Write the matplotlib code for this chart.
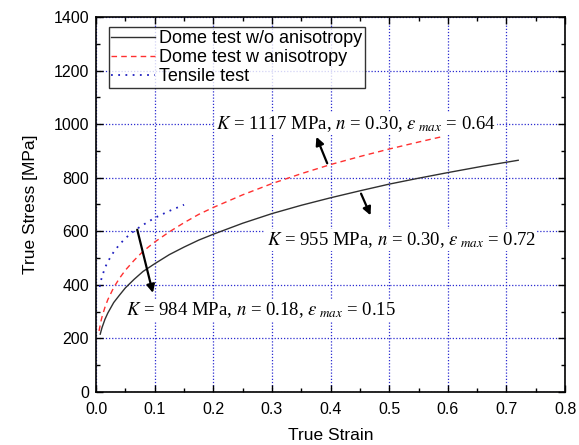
import matplotlib
matplotlib.use("Agg")
import matplotlib.pyplot as plt
from matplotlib.ticker import MultipleLocator

plt.rcParams['font.family'] = ['Liberation Sans', 'DejaVu Sans']
plt.rcParams['mathtext.fontset'] = 'stix'

# valores
strain_sin = [0.007, 0.01, 0.015, 0.02, 0.03, 0.04, 0.05, 0.065, 0.08, 0.1, 0.125, 0.15, 0.175,
              0.2, 0.25, 0.3, 0.35, 0.4, 0.45, 0.5, 0.55, 0.6, 0.66, 0.72]
stress_sin = [216, 240, 271, 295, 334, 362, 389, 421, 450, 479, 513, 541, 567,
              589, 630, 666, 697, 725, 751, 776, 798, 819, 843, 865]

strain_con = [0.005, 0.008, 0.01, 0.015, 0.02, 0.03, 0.04, 0.05, 0.065, 0.08, 0.1, 0.125, 0.15,
              0.175, 0.2, 0.25, 0.3, 0.35, 0.4, 0.45, 0.5, 0.55, 0.59]
stress_con = [228, 262, 280, 316, 345, 390, 425, 455, 492, 525, 560, 598, 632,
              663, 689, 736, 778, 815, 849, 879, 907, 933, 953]

strain_tens = [0.006, 0.008, 0.01, 0.015, 0.02, 0.03, 0.04, 0.05, 0.06, 0.075, 0.09, 0.1, 0.125, 0.15]
stress_tens = [392, 414, 430, 463, 487, 523, 551, 574, 593, 617, 637, 650, 676, 699]

etiquetas = ["Dome test w/o anisotropy", "Dome test w anisotropy", "Tensile test"]

textos = [
    r"$K$ = 1117 MPa, $n$ = 0.30, $\varepsilon_{\ max}$ = 0.64",
    r"$K$ = 955 MPa, $n$ = 0.30, $\varepsilon_{\ max}$ = 0.72",
    r"$K$ = 984 MPa, $n$ = 0.18, $\varepsilon_{\ max}$ = 0.15",
]

fig = plt.figure(figsize=(5.79, 4.45), dpi=100)
ax = fig.add_axes([0.166, 0.119, 0.810, 0.843])

ax.plot(strain_sin, stress_sin, color='#303030', lw=1.0, label=etiquetas[0])
ax.plot(strain_con, stress_con, color='#ff3030', lw=1.0, ls=(0, (4, 3)), label=etiquetas[1])
ax.plot(strain_tens, stress_tens, color='#2020c0', lw=1.3, ls=(0, (1, 3)), label=etiquetas[2])

ax.set_xlim(0, 0.8)
ax.set_ylim(0, 1400)
ax.xaxis.set_major_locator(MultipleLocator(0.1))
ax.xaxis.set_minor_locator(MultipleLocator(0.05))
ax.yaxis.set_major_locator(MultipleLocator(200))
ax.yaxis.set_minor_locator(MultipleLocator(100))
ax.set_xticklabels([f"{v:.1f}" for v in ax.get_xticks()])
ax.tick_params(which='both', direction='in', top=True, right=True, labelsize=11.5, width=1.0)
ax.tick_params(axis='x', pad=7)
ax.tick_params(axis='y', pad=5)
ax.tick_params(which='major', length=5)
ax.tick_params(which='minor', length=3)
for s in ax.spines.values():
    s.set_linewidth(1.2)

ax.grid(True, which='major', color='#2a2ad0', ls=(0, (1, 1.5)), lw=0.9)
ax.set_axisbelow(True)

ax.set_xlabel("True Strain", fontsize=12.5, labelpad=8)
ax.set_ylabel("True Stress [MPa]", fontsize=12.5, labelpad=11)

leg = ax.legend(loc='upper left', bbox_to_anchor=(0.027, 0.972), fontsize=13, handlelength=2.4,
                frameon=True, fancybox=False, edgecolor='black', borderpad=0.15,
                labelspacing=0.12, handletextpad=0.25, borderaxespad=0)
leg.get_frame().set_linewidth(1.0)

pos_textos = [(0.205, 1000), (0.291, 567), (0.051, 306)]
for t, (x, y) in zip(textos, pos_textos):
    ax.text(x, y, t, fontsize=13.5, family='Liberation Serif', va='center', ha='left',
            bbox=dict(facecolor='white', edgecolor='none', pad=1))

# flechas
flechas = [((0.396, 844), (0.374, 962)),
           ((0.450, 750), (0.470, 650)),
           ((0.069, 616), (0.098, 360))]
for inicio, fin in flechas:
    ax.annotate("", xy=fin, xytext=inicio,
                arrowprops=dict(arrowstyle='-|>', color='black', lw=1.6, mutation_scale=12))

fig.savefig("out.png", dpi=100)
